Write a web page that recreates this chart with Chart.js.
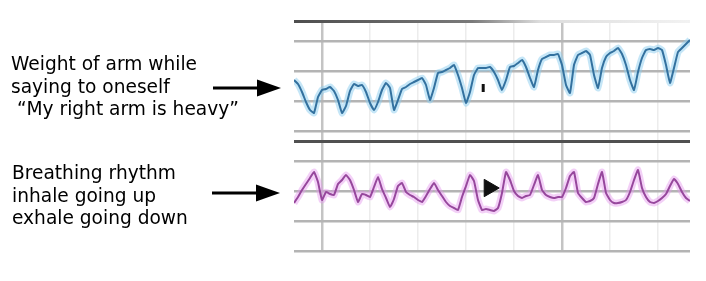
<!DOCTYPE html>
<html>
<head>
<meta charset="utf-8">
<script src="https://cdn.jsdelivr.net/npm/chart.js@4.4.0/dist/chart.umd.min.js"></script>
<style>
  body { margin: 0; background: #fff; }
  #wrap { position: relative; width: 706px; height: 281px; overflow: hidden; }
  #chart { position: absolute; left: 0; top: 0; }
  .label { position: absolute; font-family: "DejaVu Sans", Verdana, sans-serif; font-size: 18.6px; line-height: 22.5px; color: #000; white-space: pre; }
  svg { position: absolute; left: 0; top: 0; }
</style>
</head>
<body>
<div id="wrap">
  <canvas id="chart" width="706" height="281"></canvas>
  <div class="label" style="left:11px; top:53px">Weight of arm while
saying to oneself
 “My right arm is heavy”</div>
  <div class="label" style="left:12px; top:162px">Breathing rhythm
inhale going up
exhale going down</div>
  <svg width="706" height="281">
    <line x1="213" y1="88" x2="260" y2="88" stroke="#000" stroke-width="3"/>
    <polygon points="257,79.5 281,88 257,96.5" fill="#000"/>
    <line x1="212" y1="193" x2="259" y2="193" stroke="#000" stroke-width="3"/>
    <polygon points="256,184.5 280,193 256,201.5" fill="#000"/>
  </svg>
</div>
<script>
// arm weight trace (upper, blue) - one sample every 4 px of the strip
let armTrace = [
  171, 167, 159, 149, 141, 138, 154, 161, 162, 164,
  160, 151, 138, 145, 160, 167, 165, 166, 159, 148,
  141, 149, 161, 168, 163, 141, 151, 162, 164, 167,
  169, 171, 173, 166, 151, 163, 178, 179, 181, 183,
  186, 176, 163, 148, 159, 176, 183, 183, 183, 184,
  179, 171, 161, 171, 184, 185, 188, 191, 184, 173,
  164, 181, 192, 194, 196, 196, 197, 186, 166, 158,
  186, 196, 198, 200, 196, 176, 163, 183, 194, 198,
  200, 203, 197, 186, 171, 161, 179, 193, 201, 202,
  201, 203, 201, 186, 168, 183, 199, 203, 207, 211
]

// breathing trace (lower, magenta)
let breathTrace = [
  48, 54, 61, 67, 73, 79, 69, 51, 59, 57,
  56, 67, 71, 76, 71, 61, 49, 57, 56, 54,
  64, 74, 62, 53, 44, 52, 65, 68, 59, 56,
  54, 51, 49, 55, 62, 68, 61, 55, 49, 45,
  43, 41, 54, 65, 76, 70, 51, 41, 42, 41,
  40, 43, 58, 79, 71, 60, 55, 53, 55, 56,
  66, 76, 61, 56, 54, 53, 54, 54, 63, 75,
  79, 58, 53, 49, 50, 53, 67, 79, 58, 51,
  48, 48, 49, 51, 59, 71, 81, 63, 54, 49,
  48, 50, 53, 57, 65, 72, 67, 59, 53, 50
]

// the two black marks on the screenshot (bar on upper trace, cursor on lower)
let markX = [47.3, 48.8]
let markY = [163, 63]

let gridX = [7, 19, 31, 43, 55, 67, 79, 91]
let majorX = [7, 67]
let gridY = [0, 30, 60, 90, 110, 120, 150, 180, 210, 230]

let samples = armTrace.map((v, i) => i)

function topLine(c) {
    let area = c.chart.chartArea
    if (!area) return '#666'
    let g = c.chart.ctx.createLinearGradient(area.left, 0, area.right, 0)
    g.addColorStop(0, '#4e4e4e')
    g.addColorStop(0.45, '#7a7a7a')
    g.addColorStop(0.62, '#dcdcdc')
    g.addColorStop(1, '#f2f2f2')
    return g
}

const config = {
    type: 'line',
    data: {
        labels: samples,
        datasets: [
            {
                data: armTrace,
                borderColor: '#33719f',
                borderWidth: 2,
                tension: 0.12,
                pointRadius: 0,
                order: 1
            },
            {
                data: armTrace,
                borderColor: 'rgba(140, 205, 240, 0.5)',
                borderWidth: 7,
                tension: 0.12,
                pointRadius: 0,
                order: 3
            },
            {
                data: breathTrace,
                borderColor: '#96479c',
                borderWidth: 2,
                tension: 0.12,
                pointRadius: 0,
                order: 1
            },
            {
                data: breathTrace,
                borderColor: 'rgba(228, 150, 238, 0.45)',
                borderWidth: 7,
                tension: 0.12,
                pointRadius: 0,
                order: 3
            },
            {
                type: 'scatter',
                data: markX.map((x, i) => ({x: x, y: markY[i]})),
                pointStyle: ['line', 'triangle'],
                rotation: [90, 90],
                radius: [4, 10],
                borderWidth: [3, 1],
                borderColor: '#111',
                backgroundColor: '#111',
                order: 0
            }
        ]
    },
    options: {
        responsive: false,
        animation: false,
        events: [],
        layout: {
            padding: {left: 294, right: 16, top: 21, bottom: 30}
        },
        plugins: {
            legend: {display: false},
            tooltip: {enabled: false}
        },
        scales: {
            x: {
                type: 'linear',
                min: 0,
                max: 99,
                afterBuildTicks: (axis) => { axis.ticks = gridX.map(v => ({value: v})) },
                ticks: {display: false},
                border: {display: false},
                grid: {
                    drawTicks: false,
                    color: (c) => majorX.includes(c.tick.value) ? '#c4c4c4' : '#ececec',
                    lineWidth: (c) => majorX.includes(c.tick.value) ? 2.5 : 1.5
                }
            },
            y: {
                min: 0,
                max: 230,
                afterBuildTicks: (axis) => { axis.ticks = gridY.map(v => ({value: v})) },
                ticks: {display: false},
                border: {display: false},
                grid: {
                    drawTicks: false,
                    color: (c) => c.tick.value == 230 ? topLine(c) : c.tick.value == 110 ? '#505050' : '#b4b4b4',
                    lineWidth: (c) => (c.tick.value == 230 || c.tick.value == 110) ? 3 : 2.5
                }
            }
        }
    }
}

new Chart(document.getElementById('chart'), config)
</script>
</body>
</html>
